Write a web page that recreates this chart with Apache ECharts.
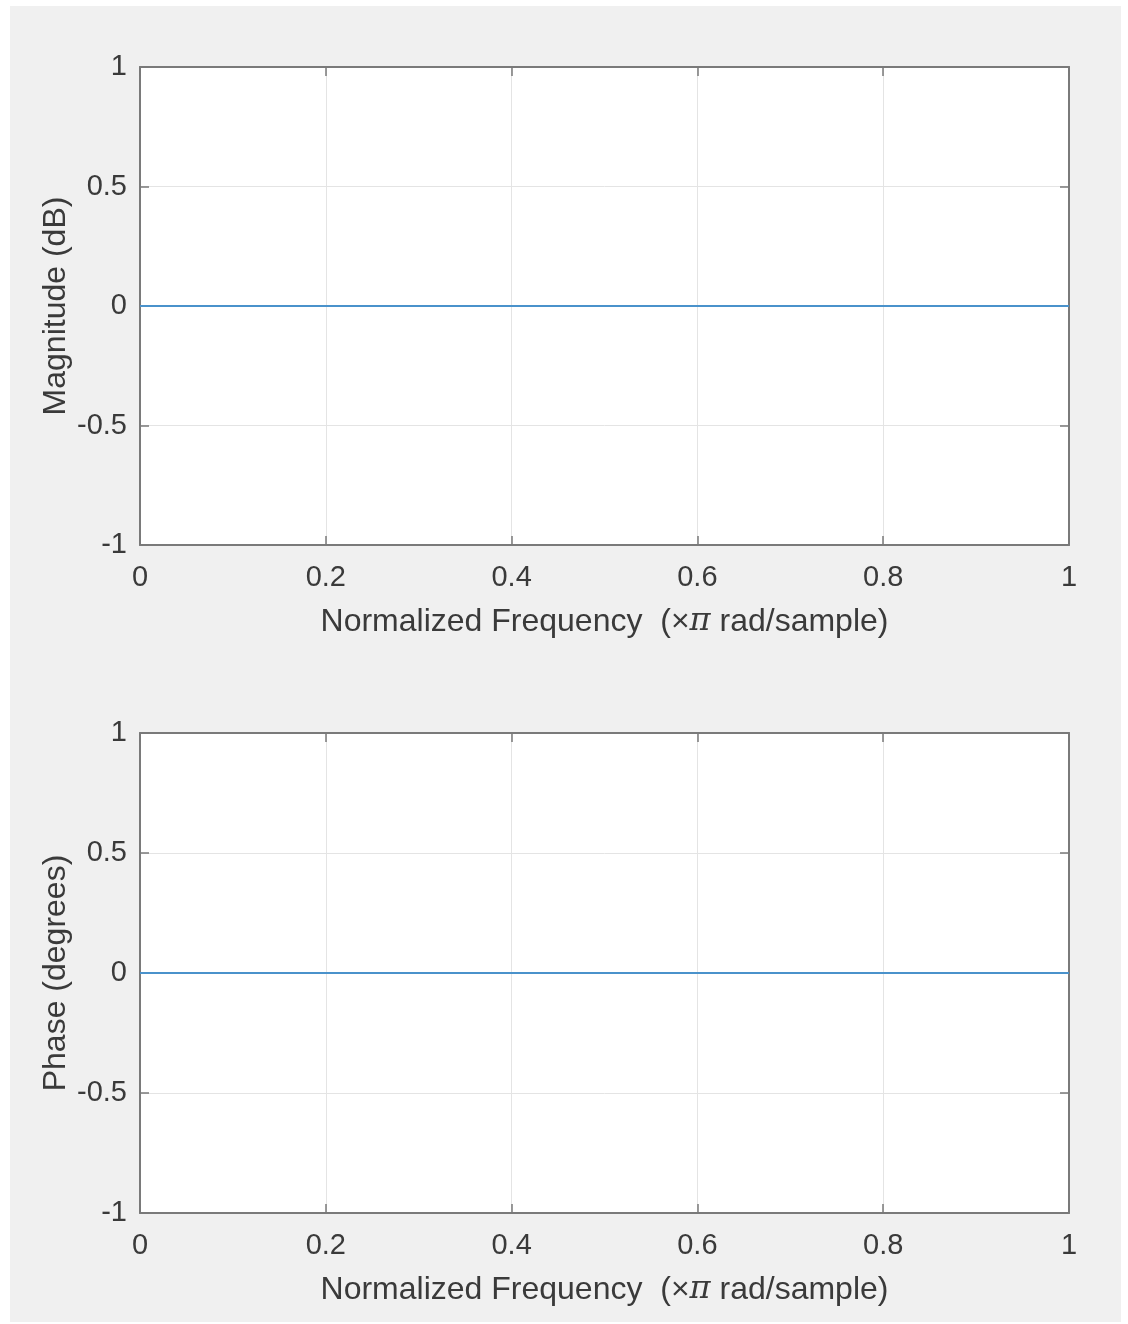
<!DOCTYPE html>
<html>
<head>
<meta charset="utf-8">
<script src="https://cdn.jsdelivr.net/npm/echarts@6/dist/echarts.min.js"></script>
<style>
html,body{margin:0;padding:0;background:#fff;}
#c{width:1128px;height:1324px;}
</style>
</head>
<body>
<div id="c"></div>
<script>
// Data
var freq = [0, 0.25, 0.5, 0.75, 1];
var magnitude = [0, 0, 0, 0, 0];
var phase = [0, 0, 0, 0, 0];
var xTicks = ['0', '0.2', '0.4', '0.6', '0.8', '1'];
var yTicks = ['-1', '-0.5', '0', '0.5', '1'];
var yNames = ['Magnitude (dB)', 'Phase (degrees)'];

var FONT = '"Liberation Sans", Arial, Helvetica, sans-serif';
var axisCol = '#7a7a7a';
var labelCol = '#3a3a3a';
var grids = [
  {left: 140, top: 67, width: 929, height: 478},
  {left: 140, top: 733, width: 929, height: 480}
];

function fmtNum(v){ return String(Math.round(v*100)/100); }

var xAxes = [], yAxes = [], series = [];
grids.forEach(function(g, i){
  g.show = true; g.backgroundColor = '#ffffff'; g.borderWidth = 0;
  xAxes.push({
    type: 'value', gridIndex: i, min: 0, max: 1, interval: 0.2, position: 'bottom',
    axisLine: {show: true, onZero: false, lineStyle: {color: axisCol, width: 2}},
    axisTick: {show: true, inside: true, length: 9, lineStyle: {color: axisCol, width: 1.5}},
    axisLabel: {show: true, margin: 18, color: labelCol, fontSize: 29, fontFamily: FONT,
      formatter: function(v){ return fmtNum(v); }},
    splitLine: {show: true, lineStyle: {color: '#e4e4e4', width: 1}},
    name: '{a|Normalized Frequency  (×}{b|π}{a| rad/sample)}',
    nameLocation: 'middle', nameGap: 61,
    nameTextStyle: {rich: {
      a: {fontSize: 32, color: labelCol, fontFamily: FONT},
      b: {fontSize: 32, color: labelCol, fontFamily: '"DejaVu Serif", "Liberation Serif", serif', fontStyle: 'italic'}
    }}
  });
  xAxes.push({
    type: 'value', gridIndex: i, min: 0, max: 1, interval: 0.2, position: 'top',
    axisLine: {show: true, onZero: false, lineStyle: {color: axisCol, width: 2}},
    axisTick: {show: true, inside: true, length: 9, lineStyle: {color: axisCol, width: 1.5}},
    axisLabel: {show: false}, splitLine: {show: false}
  });
  yAxes.push({
    type: 'value', gridIndex: i, min: -1, max: 1, interval: 0.5, position: 'left',
    axisLine: {show: true, onZero: false, lineStyle: {color: axisCol, width: 2}},
    axisTick: {show: true, inside: true, length: 9, lineStyle: {color: axisCol, width: 1.5}},
    axisLabel: {show: true, margin: 13, color: labelCol, fontSize: 29, fontFamily: FONT,
      formatter: function(v){ return fmtNum(v); }},
    splitLine: {show: true, lineStyle: {color: '#e4e4e4', width: 1}},
    name: yNames[i], nameLocation: 'middle', nameGap: 68, nameMoveOverlap: false,
    nameTextStyle: {fontSize: 32, color: labelCol, fontFamily: FONT}
  });
  yAxes.push({
    type: 'value', gridIndex: i, min: -1, max: 1, interval: 0.5, position: 'right',
    axisLine: {show: true, onZero: false, lineStyle: {color: axisCol, width: 2}},
    axisTick: {show: true, inside: true, length: 9, lineStyle: {color: axisCol, width: 1.5}},
    axisLabel: {show: false}, splitLine: {show: false}
  });
  var vals = i === 0 ? magnitude : phase;
  series.push({
    type: 'line', xAxisIndex: i*2, yAxisIndex: i*2,
    data: freq.map(function(f, k){ return [f, vals[k]]; }),
    showSymbol: false, silent: true,
    lineStyle: {color: '#4a92cb', width: 2}
  });
});

var chart = echarts.init(document.getElementById('c'), null, {renderer: 'canvas'});
chart.setOption({
  animation: false,
  backgroundColor: '#ffffff',
  graphic: [{type: 'rect', z: -10, silent: true, shape: {x: 10, y: 6, width: 1111, height: 1316}, style: {fill: '#f0f0f0'}}],
  grid: grids,
  xAxis: xAxes,
  yAxis: yAxes,
  series: series
});
</script>
</body>
</html>
